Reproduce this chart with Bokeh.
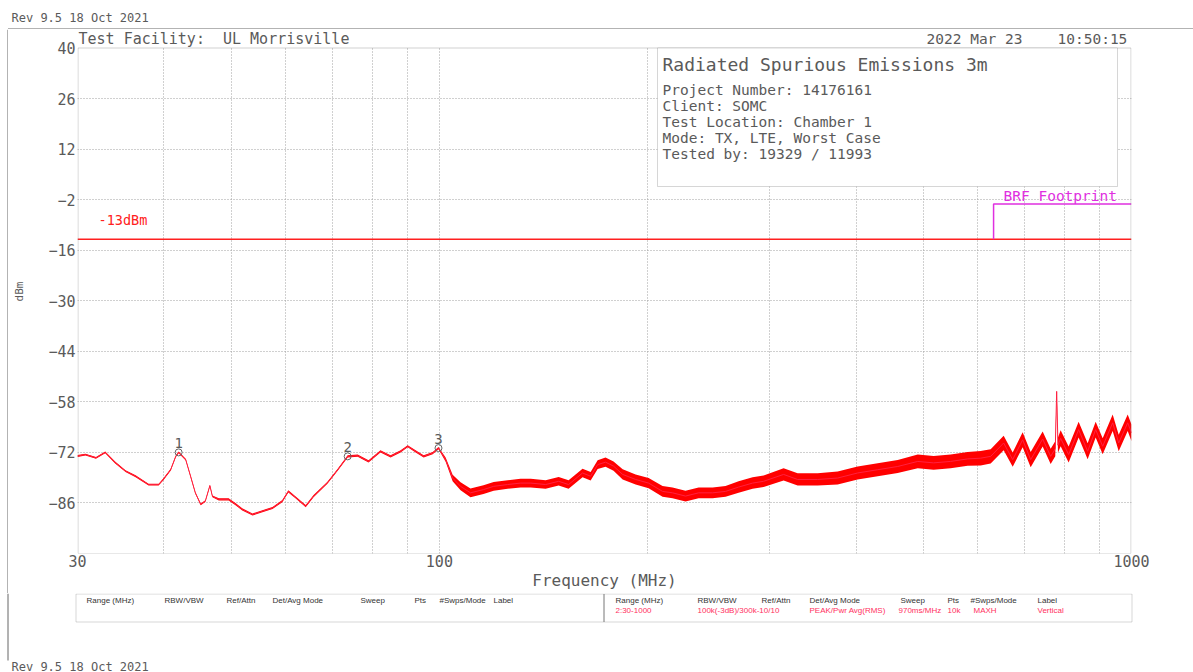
import numpy as np
from bokeh.plotting import figure
from bokeh.layouts import column, row
from bokeh.models import Range1d, FixedTicker, Label, BoxAnnotation, NumeralTickFormatter
from bokeh.embed import file_html
from bokeh.resources import INLINE
from bokeh.core.properties import value

# ---------------- data ----------------
freq_mhz = [30.0, 30.8, 31.9, 32.9, 34.0, 35.2, 36.4, 38.0, 39.3, 39.9,
            40.9, 41.6, 42.0, 43.0, 43.7, 44.4, 45.2, 45.9, 46.6, 47.0,
            48.0, 49.6, 50.8, 51.9, 53.7, 55.5, 57.4, 59.3, 60.5, 62.0,
            64.1, 65.8, 68.9, 71.3, 73.7, 76.2, 79.0, 82.2, 85.0, 87.9,
            90.0, 92.4, 94.9, 97.8, 99.7, 102.1, 104.5, 107.3, 110.9, 115.8,
            119.8, 125.5, 131.0, 135.5, 142.4, 148.7, 153.7, 161.0, 165.4, 169.3,
            173.8, 178.5, 184.0, 192.1, 200.6, 210.1, 217.2, 226.8, 236.9, 248.2,
            259.1, 270.6, 283.5, 294.1, 314.3, 329.3, 352.0, 376.2, 402.1, 429.8,
            459.4, 491.1, 517.7, 547.9, 579.8, 605.4, 625.9, 653.6, 673.5, 696.2,
            715.0, 744.1, 764.2, 776.0, 779.6, 783.0, 790.0, 811.3, 838.7, 864.2,
            887.6, 908.6, 939.3, 958.3, 987.4, 1000.0]
level_dbm = [-73.0, -72.6, -73.5, -72.0, -74.8, -77.2, -78.6, -80.9, -80.9, -79.5,
             -76.8, -73.1, -72.0, -74.0, -78.6, -83.2, -86.4, -85.5, -81.2, -84.2,
             -85.0, -85.0, -86.4, -87.8, -89.2, -88.3, -87.4, -85.5, -82.8, -84.5,
             -86.9, -84.1, -80.4, -76.8, -73.1, -72.9, -74.5, -71.7, -73.1, -71.7,
             -70.3, -71.7, -73.1, -72.2, -70.8, -74.0, -79.1, -81.4, -83.2, -82.3,
             -81.4, -80.9, -80.5, -80.5, -80.9, -80.0, -80.9, -77.7, -78.6, -75.4,
             -74.7, -75.8, -78.1, -79.5, -80.5, -82.8, -83.2, -84.1, -83.2, -83.2,
             -82.8, -81.6, -80.5, -80.0, -78.1, -79.5, -79.5, -79.1, -77.7, -76.8,
             -75.9, -74.5, -74.9, -74.5, -73.8, -73.6, -73.1, -69.4, -74.0, -68.5,
             -74.0, -68.3, -73.1, -71.0, -55.1, -70.0, -68.1, -72.6, -65.7, -71.7,
             -65.7, -70.3, -63.8, -69.4, -63.8, -66.6]
spread_db = [0.25] * 20 + [0.3] * 20 + \
            [0.3, 0.3, 0.3, 0.3, 0.3, 0.6, 0.9, 1.1, 1.2, 1.2] + \
            [1.2] * 10 + \
            [1.3, 1.3, 1.4, 1.4, 1.4, 1.5, 1.5, 1.5, 1.5, 1.5] + \
            [1.5, 1.6, 1.6, 1.6, 1.7, 1.7, 1.7, 1.8, 1.8, 1.8] + \
            [1.8, 1.9, 1.9, 1.9, 1.9, 2.0, 2.0, 2.0, 2.0, 2.1] + \
            [2.1, 2.1, 2.1, 2.1, 0.2, 2.1, 2.2, 2.2, 2.2, 2.2] + \
            [2.2, 2.2, 2.3, 2.3, 2.3, 2.3]

marker_ids = ["1", "2", "3"]
marker_freq = [42.0, 73.7, 99.7]
marker_dbm = [-72.0, -73.1, -70.8]

limit_freq = [30, 1000]
limit_dbm = [-13, -13]
brf_freq = [632, 632, 1000]
brf_dbm = [-13, -3.2, -3.2]

y_ticks = [40, 26, 12, -2, -16, -30, -44, -58, -72, -86]
x_ticks = [30, 100, 1000]
x_grid = [40, 50, 60, 70, 80, 90, 100, 200, 300, 400, 500, 600, 700, 800, 900]

info_title = "Radiated Spurious Emissions 3m"
info_lines = ["Project Number: 14176161", "Client: SOMC", "Test Location: Chamber 1",
              "Mode: TX, LTE, Worst Case", "Tested by: 19329 / 11993"]
table_head = ["Range (MHz)", "RBW/VBW", "Ref/Attn", "Det/Avg Mode", "Sweep", "Pts", "#Swps/Mode", "Label"]
table_row = ["2:30-1000", "100k(-3dB)/300k-10/10", "PEAK/Pwr Avg(RMS)", "970ms/MHz", "10k", "MAXH", "Vertical"]

assert len(freq_mhz) == len(level_dbm) == len(spread_db)

# ---------------- layout constants (page pixels) ----------------
W = 1193
HEAD_H = 29
STRIP_W = 8
X0, X1 = 77.0, 1131.0      # chart frame left/right
Y0, Y1 = 47.5, 553.0       # chart 40 dBm / -100 dBm
MAIN_BOTTOM = 593
DEC = np.log10(1000 / 30)
MONO = "DejaVu Sans Mono"
GRAY = "#5a5a5a"
FRAME_GRAY = "#666666"


def fx(px):
    return 30 * 10 ** ((px - X0) / (X1 - X0) * DEC)


def fy(py):
    return 40 - (py - Y0) / (Y1 - Y0) * 140


def no_align(fig):
    try:
        fig.frame_align = False
    except Exception:
        pass


def bare(fig):
    fig.xaxis.visible = False
    fig.yaxis.visible = False
    fig.xgrid.visible = False
    fig.ygrid.visible = False
    fig.outline_line_color = None
    fig.background_fill_color = "white"
    fig.border_fill_color = "white"
    fig.min_border = 0
    no_align(fig)


def lbl(fig, x, y, txt, size, color=GRAY, align="left", font=MONO):
    fig.add_layout(Label(x=x, y=y, text=txt, text_align=align, text_baseline="middle",
                         text_font=font, text_font_size=f"{size}px", text_color=color))


# ---------------- header strip ----------------
head = figure(width=W, height=HEAD_H, x_range=Range1d(0, W), y_range=Range1d(HEAD_H, 0),
              output_backend="svg", toolbar_location=None)
bare(head)
lbl(head, 11, 17, "Rev 9.5 18 Oct 2021", 12)
head.line([7.5, W], [28.5, 28.5], line_color=FRAME_GRAY, line_width=1)
head.line([7.5, 7.5], [28.5, HEAD_H], line_color=FRAME_GRAY, line_width=1)

# ---------------- left page edge beside the chart ----------------
MAIN_H = MAIN_BOTTOM - HEAD_H
strip = figure(width=STRIP_W, height=MAIN_H, x_range=Range1d(0, STRIP_W), y_range=Range1d(MAIN_BOTTOM, HEAD_H),
               output_backend="svg", toolbar_location=None)
bare(strip)
strip.line([7.5, 7.5], [HEAD_H, MAIN_BOTTOM], line_color=FRAME_GRAY, line_width=1)

# ---------------- main chart ----------------
p = figure(width=W - STRIP_W, height=MAIN_H, x_axis_type="log",
           x_range=Range1d(30, 1000), y_range=Range1d(-100, fy(HEAD_H)),
           output_backend="svg", toolbar_location=None,
           min_border_left=int(X0 - STRIP_W), min_border_right=int(W - X1),
           min_border_top=0, min_border_bottom=int(MAIN_BOTTOM - Y1))
no_align(p)
p.background_fill_color = "white"
p.border_fill_color = "white"
p.outline_line_color = None

p.yaxis.ticker = FixedTicker(ticks=y_ticks)
p.xaxis.ticker = FixedTicker(ticks=x_ticks)
p.xaxis.formatter = NumeralTickFormatter(format="0")
for ax in (p.xaxis[0], p.yaxis[0]):
    ax.major_tick_line_color = None
    ax.minor_tick_line_color = None
    ax.major_tick_out = 0
    ax.major_tick_in = 0
    ax.minor_tick_out = 0
    ax.minor_tick_in = 0
    ax.axis_line_color = None
    ax.major_label_text_font = MONO
    ax.major_label_text_font_size = "15px"
    ax.major_label_text_color = GRAY
    ax.axis_label_text_font = MONO
    ax.axis_label_text_font_style = "normal"
    ax.axis_label_text_color = GRAY
p.yaxis.major_label_standoff = 2
p.xaxis.major_label_standoff = 1
p.yaxis.axis_label = "dBm"
p.yaxis.axis_label_text_font_size = "11px"
p.yaxis.axis_label_standoff = 19
p.xaxis.axis_label = "Frequency (MHz)"
p.xaxis.axis_label_text_font_size = "16px"
p.xaxis.axis_label_standoff = 1

p.xgrid.ticker = FixedTicker(ticks=x_grid)
p.ygrid.ticker = FixedTicker(ticks=y_ticks[1:])
for g in (p.xgrid[0], p.ygrid[0]):
    g.grid_line_color = "#a0a0a0"
    g.grid_line_dash = "1 2"
    g.grid_line_width = 1

# trace: noise band + centre line
lower = [v - s for v, s in zip(level_dbm, spread_db)]
upper = [v + s for v, s in zip(level_dbm, spread_db)]
p.varea(x=freq_mhz, y1=lower, y2=upper, fill_color="#ff0000", fill_alpha=1.0)
p.line(freq_mhz, level_dbm, line_color="#ff2040", line_width=1)

# limit and footprint
p.line(limit_freq, limit_dbm, line_color="#ff2020", line_width=1.5)
p.line(brf_freq, brf_dbm, line_color="#e030e0", line_width=1.5)

# markers
p.scatter(marker_freq, marker_dbm, marker="circle", size=7, fill_color=None, line_color="#666666", line_width=1)
p.text(x=marker_freq, y=marker_dbm, text=marker_ids, text_align="center", text_baseline="bottom",
       y_offset=-4, text_font=value(MONO), text_font_size="14px", text_color=GRAY)

# strip above the chart (hides grid), chart box, info box
p.add_layout(BoxAnnotation(left=fx(X0 - 1), right=fx(X1 + 1), bottom=40, top=fy(HEAD_H - 1),
                           fill_color="white", fill_alpha=1.0, line_color=None))
p.add_layout(BoxAnnotation(left=fx(X0 + 0.5), right=fx(X1 - 0.5), top=40, bottom=-100,
                           fill_alpha=0, line_color=FRAME_GRAY, line_width=1))
p.add_layout(BoxAnnotation(left=fx(657), right=fx(1117), top=40, bottom=fy(186),
                           fill_color="white", fill_alpha=1.0, line_color="#777777", line_width=1))

lbl(p, fx(662), fy(64), info_title, 18)
for i, line in enumerate(info_lines):
    lbl(p, fx(662), fy(89 + 16 * i), line, 14.5)
lbl(p, fx(98), fy(219), "-13dBm", 13.5, color="#ff2020")
lbl(p, fx(1003), fy(195), "BRF Footprint", 14.5, color="#e030e0")
lbl(p, fx(78), fy(38), "Test Facility:\u00a0 UL Morrisville", 15)
lbl(p, fx(926), fy(38), "2022 Mar 23", 14.5)
lbl(p, fx(1057), fy(38), "10:50:15", 14.5)

# ---------------- footer: settings table ----------------
FOOT_H = 672 - MAIN_BOTTOM
foot = figure(width=W, height=FOOT_H, x_range=Range1d(0, W), y_range=Range1d(672, MAIN_BOTTOM),
              output_backend="svg", toolbar_location=None)
bare(foot)
foot.line([7.5, 7.5], [MAIN_BOTTOM, 660], line_color=FRAME_GRAY, line_width=1)
foot.add_layout(BoxAnnotation(left=75.5, right=1131.5, top=593.5, bottom=621.5,
                              fill_alpha=0, line_color="#777777", line_width=1))
foot.line([603.5, 603.5], [593.5, 621.5], line_color="#777777", line_width=1)
left_cols = [86, 164, 226, 272, 360, 414, 439, 493]
right_cols = [615, 697, 761, 809, 900, 947, 970, 1037]
for txt, cx in zip(table_head, left_cols):
    lbl(foot, cx, 600, txt, 8, color="#333333", font="Liberation Sans")
for txt, cx in zip(table_head, right_cols):
    lbl(foot, cx, 600, txt, 8, color="#333333", font="Liberation Sans")
row_cols = [615, 697, 809, 898, 947, 973, 1037]
for txt, cx in zip(table_row, row_cols):
    lbl(foot, cx, 610, txt, 8, color="#ff3060", font="Liberation Sans")
lbl(foot, 11, 666, "Rev 9.5 18 Oct 2021", 12)

mid = row(strip, p, spacing=0)
layout = column(head, mid, foot, spacing=0)
open("out.html", "w").write(file_html(layout, INLINE))
